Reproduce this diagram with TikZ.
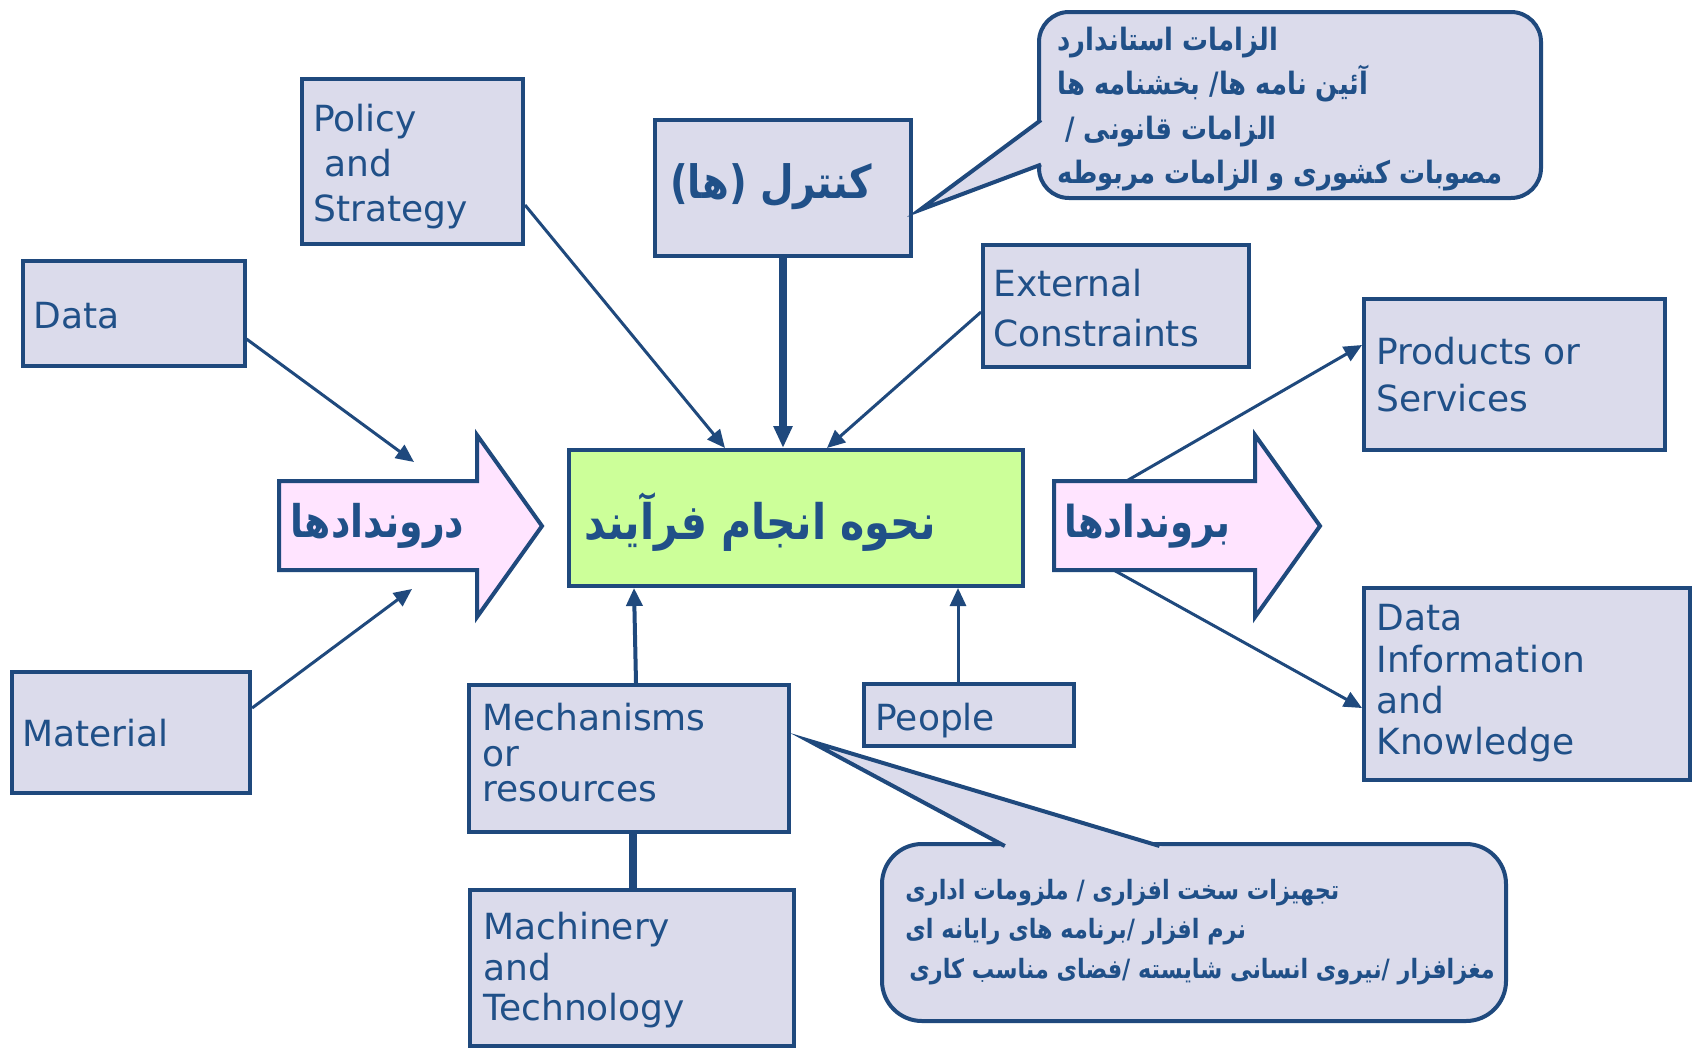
\documentclass[tikz,border=0pt]{standalone}
\usepackage{fontspec}
\setmainfont{DejaVu Sans}
\newfontfamily\fa[Script=Arabic,FakeStretch=0.84]{DejaVu Sans}
\TeXXeTstate=1
\usetikzlibrary{arrows.meta,calc}

\definecolor{edgeblue}{RGB}{31,73,125}
\definecolor{inkblue}{RGB}{32,80,136}
\definecolor{lavender}{RGB}{219,219,235}
\definecolor{limefill}{RGB}{204,255,153}
\definecolor{pinkfill}{RGB}{255,228,255}

\tikzset{
  box/.style={draw=edgeblue, fill=lavender, line width=2pt, inner sep=0pt, rectangle},
  entxt/.style={text=inkblue, inner sep=0pt, anchor=north west, align=left,
                font=\fontsize{18}{#1}\selectfont},
  entxt/.default=22,
  link/.style={draw=edgeblue, line width=1.5pt, -{Triangle[length=9pt,width=8pt]}},
  bigarrow/.style={draw=edgeblue, fill=pinkfill, line width=2pt, line join=miter},
  bubble/.style={draw=edgeblue, fill=lavender, line width=2pt, rounded corners=#1, inner sep=0pt},
  fatxt/.style={text=inkblue, inner sep=0pt},
}

\begin{document}
\begin{tikzpicture}[x=0.5pt,y=-0.5pt]
\useasboundingbox[fill=white] (0,0) rectangle (1696,1050);

% boxes
\node[box, minimum width=111pt,   minimum height=52.5pt] (data)      at (133.5,313)    {};
\node[box, minimum width=119.2pt, minimum height=60.8pt] (material)  at (130.9,732.3)  {};
\node[box, minimum width=110.5pt, minimum height=82.5pt] (policy)    at (412.5,161.5)  {};
\node[box, minimum width=128pt,   minimum height=68pt]   (control)   at (783,188)      {};
\node[box, minimum width=133pt,   minimum height=61pt]   (external)  at (1116,306)     {};
\node[box, minimum width=150.5pt, minimum height=75.5pt] (products)  at (1514.5,374.5) {};
\node[box, minimum width=163pt,   minimum height=96pt]   (dik)       at (1527,684)     {};
\node[box, minimum width=160pt,   minimum height=73.5pt] (mech)      at (629,758.5)    {};
\node[box, minimum width=162pt,   minimum height=78pt]   (machinery) at (632,968)      {};
\node[box, minimum width=105pt,   minimum height=31pt]   (people)    at (969,715)      {};
\node[box, fill=limefill, minimum width=227pt, minimum height=68pt] (process) at (796,518) {};

% free ends of the connectors around the two big arrows
\coordinate (inTop)  at (414,462);
\coordinate (inBot)  at (412,589);
\coordinate (outTop) at (1123,483);
\coordinate (outBot) at (1110,568);

% connectors
\draw[link] (data.east |- 0,339) -- (inTop);
\draw[link] (material.east |- 0,708) -- (inBot);
\draw[link] (policy.east |- 0,205) -- (process.north -| 725,0);
\draw[link, line width=4pt, -{Triangle[length=11pt,width=9pt]}] (control.south) -- (process.north -| control.south);
\draw[link] (external.west |- 0,312) -- (process.north -| 827,0);
\draw[link, line width=2pt] (mech.north -| 636,0) -- (process.south -| 634,0);
\draw[link] (people.north -| 958,0) -- (process.south -| 958,0);
\draw[draw=edgeblue, line width=4pt] (mech.south -| 633,0) -- (machinery.north -| 633,0);
\draw[link] (outTop) -- (products.west |- 0,345);
\draw[link] (outBot) -- (dik.west |- 0,708);

% input and output arrows
\draw[bigarrow] (279,481) -- (477,481) -- (477,435) -- (542,526) -- (477,617) -- (477,570) -- (279,570) -- cycle;
\draw[bigarrow] (1054,481) -- (1255,481) -- (1255,435) -- (1320,526) -- (1255,617) -- (1255,570) -- (1054,570) -- cycle;

% callout for the controls
\node[bubble=15pt, minimum width=251pt, minimum height=93pt] (ctrlBubble) at (1290,105) {};
\fill[lavender] (919.6,210.1) -- (1049,114.1) -- (1049,161.6) -- cycle;
\draw[edgeblue, line width=2pt, miter limit=25] (1041,120) -- (919.6,210.1) -- (1041,164.6);

% callout for the mechanisms
\node[bubble=20pt, minimum width=312pt, minimum height=88.5pt] (mechBubble) at (1194,932.5) {};
\fill[lavender] (808.5,740.6) -- (1019.7,854) -- (1186.1,854) -- cycle;
\draw[edgeblue, line width=2pt, miter limit=25] (1004.8,846) -- (808.5,740.6) -- (1159.5,846);

% English labels
\node[entxt] (dataTxt) at (33,302) {Data};
\node[entxt] (materialTxt) at (22,719) {Material};
\node[entxt=22.5] (policyTxt) at (313,104) {Policy\\~and\\Strategy};
\node[entxt=25] (externalTxt) at (993,269) {External\\Constraints};
\node[entxt=23.5] (productsTxt) at (1376,337) {Products or\\Services};
\node[entxt=20.7] (dikTxt) at (1376,604) {Data\\Information\\and\\Knowledge};
\node[entxt=17.75] (mechTxt) at (482,703) {Mechanisms\\or\\resources};
\node[entxt=20.25] (machineryTxt) at (483,912) {Machinery\\and\\Technology};
\node[entxt] (peopleTxt) at (875,703) {People};

% Persian labels
\node[fatxt, font=\fa\bfseries\fontsize{23}{27}\selectfont] (controlTxt) at (771,187) {\beginR کنترل (ها)\endR};
\node[fatxt, font=\fa\bfseries\fontsize{24.5}{28}\selectfont] (processTxt) at (760,522) {\beginR نحوه انجام فرآیند\endR};
\node[fatxt, font=\fa\bfseries\fontsize{22.5}{26}\selectfont] (inTxt) at (377.5,526) {\beginR دروندادها\endR};
\node[fatxt, font=\fa\bfseries\fontsize{22}{26}\selectfont] (outTxt) at (1147.5,526) {\beginR بروندادها\endR};
\node[fatxt, anchor=west, align=left, font=\fa\bfseries\fontsize{15.4}{22.3}\selectfont] (ctrlNote) at (1057,109)
  {\beginR الزامات استاندارد\endR\\
   \beginR آئین نامه ها/ بخشنامه ها\endR\\
   \kern4pt\beginR الزامات قانونی /\endR\\
   \beginR مصوبات کشوری و الزامات مربوطه\endR};
\node[fatxt, anchor=west, align=left, font=\fa\bfseries\fontsize{13.3}{19.75}\selectfont] (mechNote) at (905,932)
  {\beginR تجهیزات سخت افزاری / ملزومات اداری\endR\\
   \beginR نرم افزار /برنامه های رایانه ای\endR\\
   \kern2pt\beginR مغزافزار /نیروی انسانی شایسته /فضای مناسب کاری\endR};
\end{tikzpicture}
\end{document}
